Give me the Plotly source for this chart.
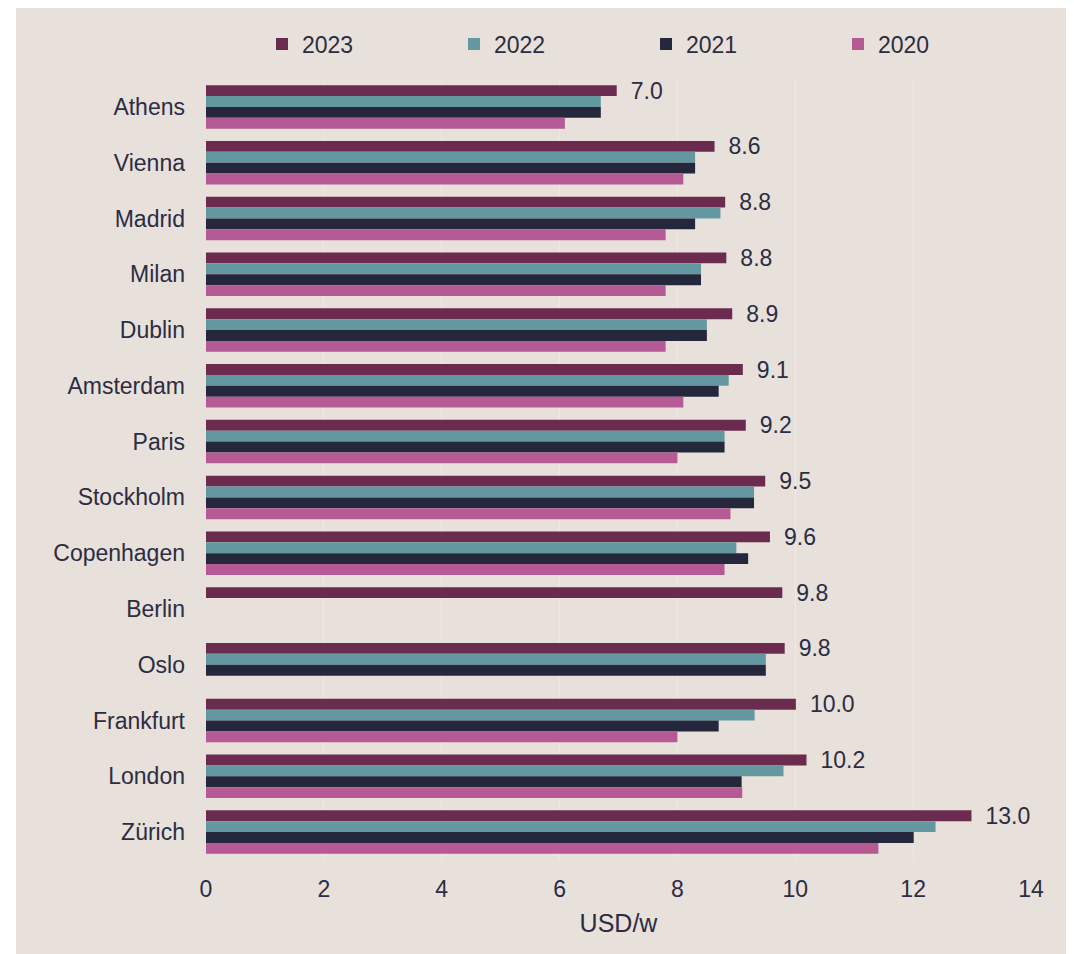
import plotly.graph_objects as go

# Datos: ciudades y valores por año (USD/w)
ciudades = ["Athens", "Vienna", "Madrid", "Milan", "Dublin", "Amsterdam", "Paris",
            "Stockholm", "Copenhagen", "Berlin", "Oslo", "Frankfurt", "London", "Zürich"]
anios = ["2023", "2022", "2021", "2020"]
v2023 = [6.97, 8.63, 8.81, 8.83, 8.93, 9.11, 9.16, 9.49, 9.57, 9.78, 9.82, 10.01, 10.19, 12.99]
v2022 = [6.70, 8.30, 8.73, 8.40, 8.50, 8.87, 8.80, 9.30, 9.00, None, 9.50, 9.31, 9.80, 12.38]
v2021 = [6.70, 8.30, 8.30, 8.40, 8.50, 8.70, 8.80, 9.30, 9.20, None, 9.50, 8.70, 9.09, 12.01]
v2020 = [6.09, 8.10, 7.80, 7.80, 7.80, 8.10, 8.00, 8.90, 8.80, None, None, 8.00, 9.10, 11.41]
x_ticks = [0, 2, 4, 6, 8, 10, 12, 14]

colores = {"2023": "#6b2b4f", "2022": "#6398a1", "2021": "#25283d", "2020": "#b55a94"}
fondo = "#e8e0db"
texto = "#2b2d42"
fuente = "Liberation Sans, Arial, sans-serif"

# Geometría de la figura (px); la página añade 8 px de margen al body
W, H = 1066, 946
M_L, M_R, M_T, M_B = 198, 43, 71, 94
pw, ph = W - M_L - M_R, H - M_T - M_B

fig = go.Figure()
for anio, valores in zip(anios, [v2023, v2022, v2021, v2020]):
    con_texto = anio == "2023"
    fig.add_trace(go.Bar(
        x=valores,
        y=ciudades,
        orientation="h",
        name=anio,
        marker=dict(color=colores[anio], line=dict(width=0)),
        texttemplate="\u00a0\u2009%{x:.1f}" if con_texto else None,
        textposition="outside" if con_texto else "none",
        textfont=dict(size=23, color=texto, family=fuente),
        constraintext="none",
        cliponaxis=False,
    ))

# Panel beige que cubre toda la figura
fig.add_shape(
    type="rect", xref="paper", yref="paper", layer="below",
    x0=(8 - M_L) / pw, x1=(W - M_L) / pw,
    y0=-M_B / ph, y1=(H - M_B) / ph,
    fillcolor=fondo, line=dict(width=0),
)

fig.update_layout(
    width=W,
    height=H,
    margin=dict(l=M_L, r=M_R, t=M_T, b=M_B, pad=0),
    paper_bgcolor="white",
    plot_bgcolor=fondo,
    barmode="group",
    bargap=0.22,
    bargroupgap=0,
    font=dict(family=fuente, size=23, color=texto),
    showlegend=True,
    legend=dict(
        orientation="h",
        x=(254 - M_L) / pw,
        xanchor="left",
        y=(H - M_B - 36) / ph,
        yanchor="middle",
        entrywidth=147,
        entrywidthmode="pixels",
        traceorder="normal",
        font=dict(size=23, color=texto, family=fuente),
        bgcolor="rgba(0,0,0,0)",
    ),
    xaxis=dict(
        range=[0, 14],
        tickvals=x_ticks,
        showgrid=True,
        gridcolor="#efe9e5",
        gridwidth=1,
        zeroline=False,
        showline=False,
        ticks="",
        ticklabelstandoff=13,
        tickfont=dict(size=23, color=texto),
        title=dict(text="USD/w", font=dict(size=25, color=texto), standoff=13),
    ),
    yaxis=dict(
        autorange="reversed",
        showgrid=False,
        zeroline=False,
        showline=False,
        ticks="",
        ticklabelstandoff=20,
        tickfont=dict(size=23, color=texto),
    ),
)

fig.write_html("out.html")
